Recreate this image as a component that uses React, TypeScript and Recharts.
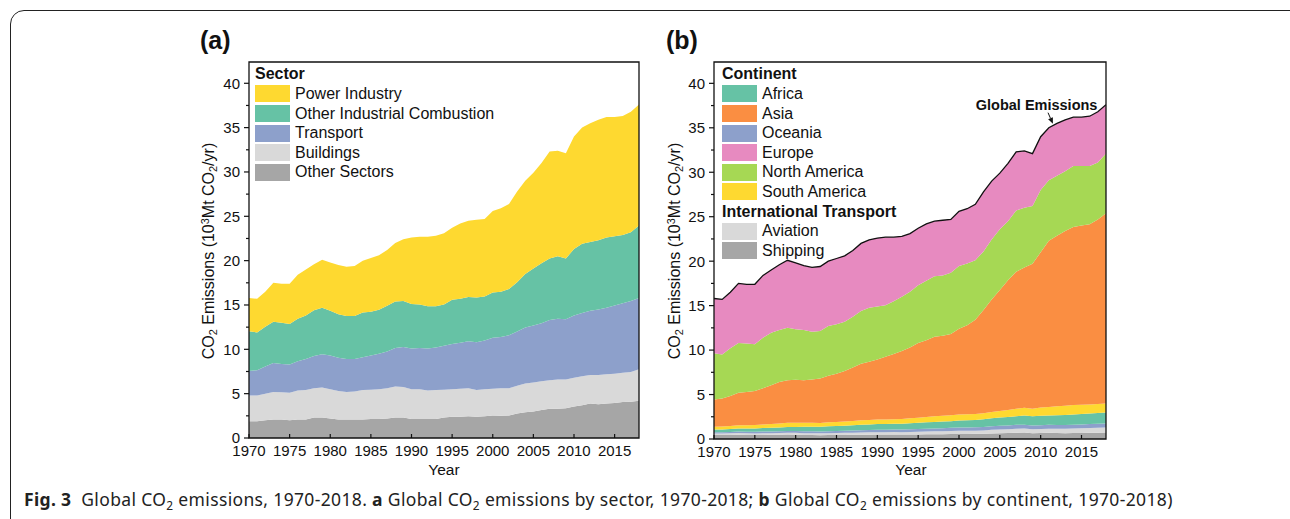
import React from 'react';
import { ComposedChart, Area, Line, XAxis, YAxis, ReferenceArea, ReferenceLine, ReferenceDot } from 'recharts';

const years = [1970,1971,1972,1973,1974,1975,1976,1977,1978,1979,1980,1981,1982,1983,1984,1985,1986,1987,1988,1989,1990,1991,1992,1993,1994,1995,1996,1997,1998,1999,2000,2001,2002,2003,2004,2005,2006,2007,2008,2009,2010,2011,2012,2013,2014,2015,2016,2017,2018];

// Panel (a): by sector (10^3 Mt CO2 / yr)
const otherSectors = [1.9,1.9,2.0,2.1,2.1,2.0,2.1,2.1,2.3,2.3, 2.2,2.1,2.1,2.1,2.1,2.15,2.15,2.2,2.3,2.3, 2.15,2.15,2.15,2.15,2.3,2.4,2.4,2.45,2.4,2.45, 2.55,2.5,2.55,2.75,2.9,3.0,3.15,3.3,3.3,3.35, 3.55,3.7,3.9,3.8,3.9,3.95,4.05,4.1,4.2];
const buildings = [2.9,2.9,3.0,3.1,3.05,3.1,3.25,3.3,3.3,3.4, 3.3,3.2,3.1,3.15,3.3,3.3,3.35,3.4,3.5,3.45, 3.35,3.35,3.2,3.25,3.15,3.1,3.15,3.15,3.0,3.05, 3.0,3.1,3.05,3.15,3.25,3.25,3.25,3.2,3.3,3.25, 3.25,3.25,3.2,3.3,3.3,3.3,3.3,3.35,3.55];
const transport = [2.75,2.85,3.05,3.25,3.2,3.2,3.3,3.5,3.65,3.75, 3.8,3.75,3.7,3.65,3.7,3.85,4.0,4.15,4.35,4.5, 4.6,4.65,4.75,4.8,4.95,5.1,5.2,5.3,5.4,5.5, 5.75,5.8,6.0,6.1,6.3,6.45,6.55,6.8,6.85,6.8, 7.0,7.15,7.25,7.4,7.5,7.7,7.85,8.0,8.05];
const otherIndustrial = [4.5,4.25,4.5,4.65,4.65,4.55,4.8,4.9,5.15,5.25, 5.05,4.9,4.85,4.85,5.05,4.95,4.95,5.15,5.25,5.2, 5.0,4.9,4.75,4.65,4.65,5.0,4.95,5.0,5.05,4.95, 5.1,5.1,5.2,5.55,6.05,6.4,6.75,6.95,7.05,6.85, 7.5,7.8,7.75,7.8,7.9,7.8,7.7,7.75,8.15];
const powerIndustry = [3.75,3.8,3.95,4.4,4.4,4.55,4.95,5.2,5.2,5.4, 5.45,5.55,5.55,5.65,5.85,6.05,6.15,6.3,6.6,6.95, 7.5,7.65,7.85,7.95,8.05,8.1,8.5,8.6,8.75,8.75, 9.2,9.4,9.6,10.25,10.5,10.8,11.3,12.05,11.9,11.85, 12.7,13.1,13.4,13.6,13.6,13.45,13.4,13.6,13.65];

// Panel (b): by continent + international transport
const shipping = [0.45,0.45,0.46,0.48,0.46,0.45,0.46,0.47,0.48,0.5, 0.49,0.46,0.44,0.43,0.44,0.45,0.46,0.47,0.48,0.49, 0.5,0.5,0.51,0.5,0.51,0.52,0.53,0.54,0.54,0.55, 0.56,0.56,0.58,0.6,0.63,0.65,0.68,0.71,0.72,0.66, 0.68,0.7,0.67,0.66,0.67,0.68,0.69,0.71,0.72];
const aviation = [0.17,0.17,0.18,0.19,0.18,0.18,0.19,0.19,0.2,0.21, 0.2,0.2,0.2,0.21,0.22,0.22,0.23,0.24,0.26,0.26, 0.27,0.26,0.27,0.27,0.29,0.3,0.31,0.32,0.33,0.35, 0.37,0.36,0.36,0.37,0.4,0.42,0.43,0.45,0.45,0.43, 0.45,0.46,0.47,0.48,0.5,0.52,0.54,0.56,0.58];
const oceania = [0.15,0.15,0.16,0.17,0.17,0.18,0.18,0.19,0.19,0.2, 0.2,0.21,0.22,0.21,0.22,0.23,0.23,0.24,0.25,0.27, 0.28,0.28,0.29,0.29,0.3,0.31,0.32,0.33,0.35,0.36, 0.37,0.38,0.39,0.39,0.4,0.41,0.42,0.43,0.44,0.44, 0.43,0.43,0.44,0.43,0.43,0.44,0.45,0.45,0.45];
const africa = [0.3,0.31,0.33,0.35,0.36,0.38,0.4,0.42,0.43,0.45, 0.47,0.5,0.52,0.53,0.55,0.57,0.58,0.59,0.61,0.62, 0.63,0.64,0.64,0.65,0.67,0.69,0.71,0.73,0.74,0.75, 0.78,0.8,0.81,0.85,0.9,0.93,0.95,0.98,1.03,1.03, 1.06,1.06,1.1,1.13,1.16,1.17,1.18,1.2,1.22];
const southAmerica = [0.3,0.32,0.34,0.36,0.38,0.39,0.41,0.43,0.45,0.47, 0.48,0.46,0.45,0.43,0.44,0.45,0.47,0.49,0.5,0.5, 0.5,0.51,0.52,0.54,0.56,0.58,0.61,0.64,0.66,0.66, 0.67,0.68,0.67,0.68,0.72,0.75,0.78,0.82,0.87,0.85, 0.93,0.96,1.0,1.05,1.07,1.05,1.03,1.02,1.02];
const asia = [3.08,3.15,3.38,3.65,3.75,3.82,4.06,4.35,4.65,4.77, 4.81,4.77,4.87,4.99,5.23,5.43,5.68,6.02,6.35,6.56, 6.77,7.06,7.32,7.65,7.97,8.4,8.62,8.94,8.98,9.13, 9.65,10.02,10.59,11.61,12.65,13.59,14.59,15.41,15.79,16.29, 17.45,18.69,19.17,19.65,20.02,20.14,20.26,20.76,21.41];
const northAmerica = [5.2,4.95,5.35,5.6,5.45,5.25,5.7,5.9,5.85,5.9, 5.7,5.65,5.35,5.35,5.6,5.55,5.55,5.7,5.95,6.05, 5.95,5.8,5.95,6.1,6.25,6.5,6.7,6.8,6.8,6.9, 7.05,6.95,6.7,6.6,6.75,6.85,6.65,6.9,6.7,6.5, 7.0,6.8,6.75,6.7,6.85,6.7,6.55,6.4,6.7];
const europe = [6.15,6.2,6.3,6.7,6.65,6.75,7.0,7.05,7.35,7.6, 7.45,7.25,7.25,7.25,7.3,7.4,7.4,7.45,7.6,7.65, 7.7,7.65,7.2,6.8,6.55,6.4,6.4,6.2,6.2,6.0, 6.15,6.15,6.3,6.7,6.55,6.3,6.5,6.6,6.4,5.9, 6.0,5.9,5.9,5.8,5.5,5.5,5.6,5.7,5.5];

const yTicks = [0,2.5,5,7.5,10,12.5,15,17.5,20,22.5,25,27.5,30,32.5,35,37.5,40];
const xTicks = [1970,1975,1980,1985,1990,1995,2000,2005,2010,2015];
const Y_MAX = 42.4;

const sectorSeries = [
  { key: 'otherSectors', name: 'Other Sectors', color: '#A6A6A6', values: otherSectors },
  { key: 'buildings', name: 'Buildings', color: '#D9D9D9', values: buildings },
  { key: 'transport', name: 'Transport', color: '#8DA0CB', values: transport },
  { key: 'otherIndustrial', name: 'Other Industrial Combustion', color: '#66C2A5', values: otherIndustrial },
  { key: 'powerIndustry', name: 'Power Industry', color: '#FED930', values: powerIndustry },
];

const continentSeries = [
  { key: 'shipping', name: 'Shipping', color: '#A6A6A6', values: shipping },
  { key: 'aviation', name: 'Aviation', color: '#D9D9D9', values: aviation },
  { key: 'oceania', name: 'Oceania', color: '#8DA0CB', values: oceania },
  { key: 'africa', name: 'Africa', color: '#66C2A5', values: africa },
  { key: 'southAmerica', name: 'South America', color: '#FED930', values: southAmerica },
  { key: 'asia', name: 'Asia', color: '#FA8E42', values: asia },
  { key: 'northAmerica', name: 'North America', color: '#A6D854', values: northAmerica },
  { key: 'europe', name: 'Europe', color: '#E78AC0', values: europe },
];

const sectorLegendOrder = ['powerIndustry', 'otherIndustrial', 'transport', 'buildings', 'otherSectors'];
const continentLegendOrder = ['africa', 'asia', 'oceania', 'europe', 'northAmerica', 'southAmerica'];
const transportLegendOrder = ['aviation', 'shipping'];

const sectorData = years.map((year, i) => {
  const row: any = { year };
  sectorSeries.forEach((s) => { row[s.key] = s.values[i]; });
  return row;
});
const continentData = years.map((year, i) => {
  const row: any = { year };
  let sum = 0;
  continentSeries.forEach((s) => { row[s.key] = s.values[i]; sum += s.values[i]; });
  row.global = Math.round(sum * 100) / 100;
  return row;
});

const FONT = "'Liberation Sans', Arial, Helvetica, sans-serif";
const INK = '#111';

const YTick = (props: any) => {
  const { x, y, payload } = props;
  const axisX = x + 9;
  const v = payload.value;
  const major = Math.abs(v % 5) < 1e-6;
  return (
    <g>
      <line x1={axisX - (major ? 5 : 3)} x2={axisX} y1={y} y2={y} stroke={INK} strokeWidth={1.2} />
      {major && (
        <text x={x} y={y} dy="0.36em" textAnchor="end" fontSize={15} fontFamily={FONT} fill={INK}>{v}</text>
      )}
    </g>
  );
};

const XTick = (props: any) => {
  const { x, y, payload } = props;
  const axisY = y - 8;
  return (
    <g>
      <line x1={x} x2={x} y1={axisY} y2={axisY - 4} stroke={INK} strokeWidth={1.2} />
      <text x={x} y={axisY + 7} dy="0.71em" textAnchor="middle" fontSize={15} fontFamily={FONT} fill={INK}>{payload.value}</text>
    </g>
  );
};

const ArrowShape = (props: any) => {
  const { x1, y1, x2, y2 } = props;
  if (![x1, y1, x2, y2].every((n) => typeof n === 'number' && isFinite(n))) return null;
  const ang = Math.atan2(y2 - y1, x2 - x1);
  const L = 6, W = 2.6;
  const bx = x2 - L * Math.cos(ang), by = y2 - L * Math.sin(ang);
  const px = -Math.sin(ang) * W, py = Math.cos(ang) * W;
  return (
    <g>
      <line x1={x1} y1={y1} x2={bx} y2={by} stroke={INK} strokeWidth={1} />
      <polygon points={`${x2},${y2} ${bx + px},${by + py} ${bx - px},${by - py}`} fill={INK} />
    </g>
  );
};

const Sub = ({ children }: any) => (
  <span style={{ fontSize: '0.68em', position: 'relative', top: '0.3em' }}>{children}</span>
);
const Sup = ({ children }: any) => (
  <span style={{ fontSize: '0.68em', position: 'relative', top: '-0.45em' }}>{children}</span>
);

const YTitle = ({ cx, cy }: { cx: number; cy: number }) => (
  <div style={{ position: 'absolute', left: cx, top: cy, transform: 'translate(-50%, -50%) rotate(-90deg)', whiteSpace: 'nowrap', fontFamily: FONT, fontSize: 16, color: INK, lineHeight: '18px' }}>
    CO<Sub>2</Sub> Emissions (10<Sup>3</Sup>Mt CO<Sub>2</Sub>/yr)
  </div>
);

const XTitle = ({ cx, cy }: { cx: number; cy: number }) => (
  <div style={{ position: 'absolute', left: cx, top: cy, transform: 'translate(-50%, -50%)', fontFamily: FONT, fontSize: 15.5, color: INK, lineHeight: '18px' }}>Year</div>
);

const PITCH = 19.6;
const LegendBlock = ({ left, top, groups }: { left: number; top: number; groups: { title: string; items: { name: string; color: string }[] }[] }) => {
  const rows: any[] = [];
  let slot = 0;
  groups.forEach((g, gi) => {
    rows.push(
      <div key={'t' + gi} style={{ position: 'absolute', left: 0, top: slot * PITCH, height: PITCH, display: 'flex', alignItems: 'center', fontWeight: 'bold', whiteSpace: 'nowrap' }}>{g.title}</div>
    );
    slot += 1;
    g.items.forEach((it, ii) => {
      rows.push(
        <div key={gi + '-' + ii} style={{ position: 'absolute', left: 0, top: slot * PITCH, height: PITCH, display: 'flex', alignItems: 'center', whiteSpace: 'nowrap' }}>
          <div style={{ width: 35, height: 17, background: it.color, marginRight: 5 }} />
          <span>{it.name}</span>
        </div>
      );
      slot += 1;
    });
  });
  return <div style={{ position: 'absolute', left, top, fontFamily: FONT, fontSize: 16, color: INK }}>{rows}</div>;
};

const pick = (series: any[], keys: string[]) => keys.map((k) => series.find((s) => s.key === k));

const commonAxes = () => [
  <XAxis key="x" dataKey="year" type="number" domain={[1970, 2018]} ticks={xTicks} interval={0} axisLine={false} tickLine={false} tickSize={4} tickMargin={4} tick={<XTick />} height={30} allowDataOverflow />,
  <YAxis key="y" type="number" domain={[0, Y_MAX]} ticks={yTicks} interval={0} axisLine={false} tickLine={false} tickSize={5} tickMargin={4} tick={<YTick />} width={60} allowDataOverflow />,
];

export default function App() {
  return (
    <div style={{ position: 'fixed', left: 0, top: 0, width: 1290, height: 519, overflow: 'hidden', background: '#fff' }}>
      <div style={{ position: 'absolute', left: 10, top: 10, width: 1300, height: 540, border: '1.5px solid #222', borderRadius: 14, boxSizing: 'border-box' }} />

      {/* Panel (a) */}
      <div style={{ position: 'absolute', left: 150, top: 40 }}>
        <ComposedChart width={510} height={440} data={sectorData} margin={{ top: 22, right: 21, bottom: 12, left: 39 }}>
          {sectorSeries.map((s) => (
            <Area key={s.key} type="linear" dataKey={s.key} name={s.name} stackId="a" stroke="none" fill={s.color} fillOpacity={1} isAnimationActive={false} />
          ))}
          {commonAxes()}
          <ReferenceArea x1={1970} x2={2018} y1={0} y2={Y_MAX} fill="none" stroke={INK} strokeWidth={1.3} ifOverflow="visible" />
        </ComposedChart>
      </div>

      {/* Panel (b) */}
      <div style={{ position: 'absolute', left: 620, top: 40 }}>
        <ComposedChart width={510} height={440} data={continentData} margin={{ top: 22, right: 24, bottom: 11, left: 34 }}>
          {continentSeries.map((s) => (
            <Area key={s.key} type="linear" dataKey={s.key} name={s.name} stackId="b" stroke="none" fill={s.color} fillOpacity={1} isAnimationActive={false} />
          ))}
          <Line type="linear" dataKey="global" name="Global Emissions" stroke={INK} strokeWidth={1.3} dot={false} isAnimationActive={false} />
          {commonAxes()}
          <ReferenceArea x1={1970} x2={2018} y1={0} y2={Y_MAX} fill="none" stroke={INK} strokeWidth={1.3} ifOverflow="visible" />
          <ReferenceLine segment={[{ x: 2010.9, y: 36.7 }, { x: 2011.5, y: 35.45 }]} shape={<ArrowShape />} ifOverflow="visible" />
          <ReferenceDot x={2009.5} y={37.6} r={1} fill="none" stroke="none" ifOverflow="visible"
            label={{ value: 'Global Emissions', position: 'center', fontWeight: 'bold', fontSize: 14.5, fill: INK, fontFamily: FONT }} />
        </ComposedChart>
      </div>

      {/* Panel letters */}
      <div style={{ position: 'absolute', left: 200, top: 26, fontFamily: FONT, fontWeight: 'bold', fontSize: 25, color: INK }}>(a)</div>
      <div style={{ position: 'absolute', left: 666, top: 26, fontFamily: FONT, fontWeight: 'bold', fontSize: 25, color: INK }}>(b)</div>

      <YTitle cx={209} cy={251} />
      <YTitle cx={675} cy={251} />
      <XTitle cx={444} cy={470} />
      <XTitle cx={911} cy={470} />

      <LegendBlock left={255} top={64.6} groups={[{ title: 'Sector', items: pick(sectorSeries, sectorLegendOrder) }]} />
      <LegendBlock left={722} top={64.6} groups={[
        { title: 'Continent', items: pick(continentSeries, continentLegendOrder) },
        { title: 'International Transport', items: pick(continentSeries, transportLegendOrder) },
      ]} />

      {/* Caption */}
      <div style={{ position: 'absolute', left: 24, top: 487, fontFamily: "'Noto Sans', 'Open Sans', sans-serif", fontSize: 17.5, letterSpacing: 0.35, color: '#222', whiteSpace: 'nowrap', lineHeight: '24px' }}>
        <b>Fig. 3</b>&nbsp;&nbsp;Global CO<Sub>2</Sub> emissions, 1970-2018. <b>a</b> Global CO<Sub>2</Sub> emissions by sector, 1970-2018; <b>b</b> Global CO<Sub>2</Sub> emissions by continent, 1970-2018)
      </div>
    </div>
  );
}
